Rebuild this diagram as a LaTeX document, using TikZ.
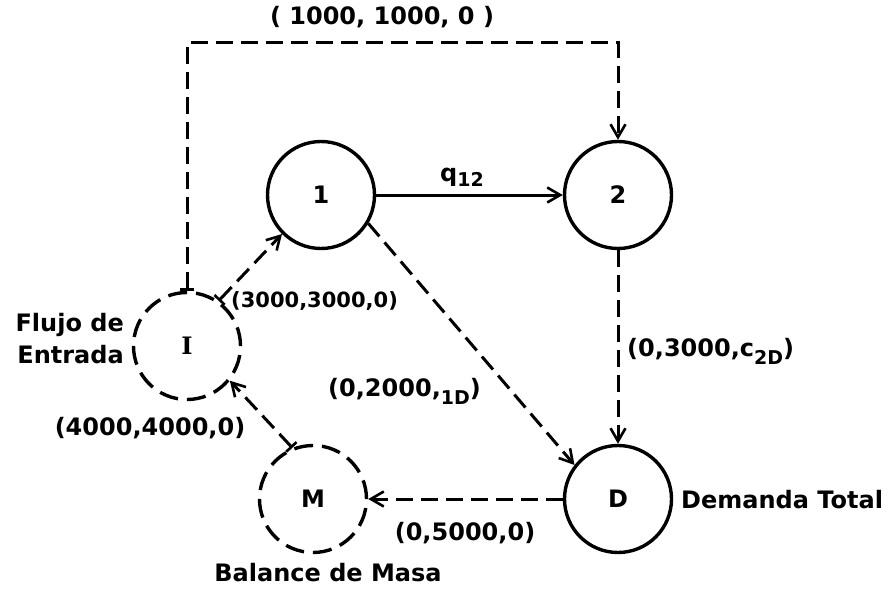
\documentclass[tikz,border=0pt]{standalone}
\usepackage{fontspec}
\setmainfont{DejaVu Sans}
\newfontfamily\serifI{DejaVu Serif}
\usetikzlibrary{arrows.meta}
\newcommand\lsub[2][-8pt]{\raisebox{#1}{\fontsize{19}{19}\selectfont #2}}
\begin{document}
\begin{tikzpicture}[x=1pt,y=-1pt,
 every node/.style={font=\fontsize{24}{32}\selectfont\bfseries},
 circ/.style={circle,draw,line width=3.4pt,minimum size=107pt,inner sep=0pt},
 dcirc/.style={circ,dash pattern=on 19pt off 9pt},
 flow/.style={line width=3pt},
 dflow/.style={flow,dash pattern=on 17pt off 8pt},
 head/.style={-{Straight Barb[length=13pt,width=15pt,line width=2.6pt]}},
 tailhead/.style={{Bar[width=14pt,line width=2.6pt]}-{Straight Barb[length=13pt,width=15pt,line width=2.6pt]}},
 lbl/.style={inner sep=0pt}
]
\useasboundingbox (0,0) rectangle (891,591);
% nodes
\node[circ] (n1) at (321,195) {1};
\node[circ] (n2) at (618,195) {2};
\node[dcirc] (nI) at (187,346) {\serifI I};
\node[dcirc] (nM) at (313,499) {M};
\node[circ] (nD) at (618,499) {D};
\coordinate (tr) at (618,43);
% connectors
\draw[flow,head] (n1) -- (n2);
\draw[dflow,tailhead] (nI.north) |- (tr) -- (n2.north);
\draw[dflow,tailhead] (nI.55) -- (n1.-135);
\draw[dflow,head] (n1.-31) -- (nD.142);
\draw[dflow,head] (n2) -- (nD);
\draw[dflow,head] (nD) -- (nM);
\draw[dflow,tailhead] (nM.112) -- (nI.-39);
% labels
\node[lbl] (t1) at (382,17) {( 1000, 1000, 0 )};
\node[lbl] (tq) at (462,177) {q\lsub[-5pt]{12}};
\node[lbl,anchor=west,font=\fontsize{21}{24}\selectfont\bfseries] (t3) at (231,301) {(3000,3000,0)};
\node[lbl,anchor=east,align=right] (tf) at (124,339) {Flujo de\\Entrada};
\node[lbl] (t4) at (150,428) {(4000,4000,0)};
\node[lbl,anchor=west] (t5) at (328,391) {(0,2000,\lsub{1D})};
\node[lbl,anchor=west] (t6) at (627,351) {(0,3000,c\lsub{2D})};
\node[lbl,anchor=west] (tD) at (681,500) {Demanda Total};
\node[lbl] (t7) at (465,533) {(0,5000,0)};
\node[lbl] (tB) at (328,573) {Balance de Masa};
\end{tikzpicture}
\end{document}
